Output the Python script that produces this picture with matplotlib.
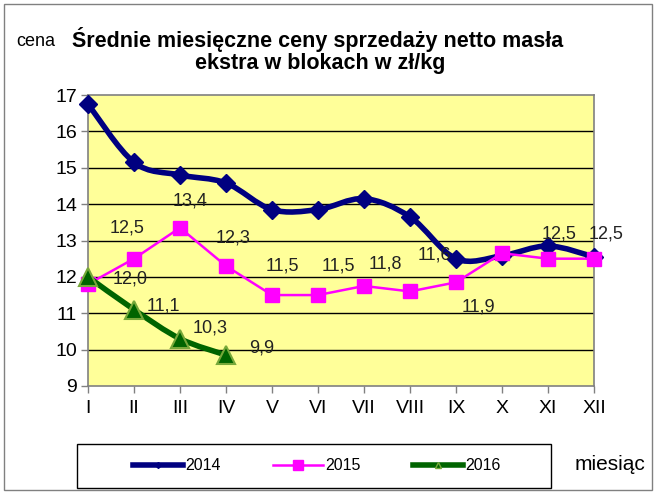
import matplotlib
matplotlib.use("Agg")
import matplotlib.pyplot as plt
from matplotlib.path import Path
from matplotlib.patches import PathPatch, Rectangle
from matplotlib.lines import Line2D
import numpy as np

plt.rcParams['font.family'] = ['Liberation Sans', 'DejaVu Sans']

months = ["I", "II", "III", "IV", "V", "VI", "VII", "VIII", "IX", "X", "XI", "XII"]
y2014 = [16.75, 15.15, 14.8, 14.58, 13.85, 13.85, 14.15, 13.65, 12.5, 12.58, 12.85, 12.55]
y2015 = [11.8, 12.5, 13.35, 12.3, 11.5, 11.5, 11.75, 11.6, 11.85, 12.65, 12.5, 12.5]
y2016 = [12.0, 11.1, 10.3, 9.85]
labels2015 = [None, "12,5", "13,4", "12,3", "11,5", "11,5", "11,8", "11,6", "11,9", None, "12,5", "12,5"]
labels2016 = ["12,0", "11,1", "10,3", "9,9"]
# label offsets in pixels (dx, dy), screen up positive
off2015 = [None, (-7, 31), (10, 27), (7, 28), (10, 29), (20, 29), (21, 22), (24, 36), (22, -25), None, (11, 25), (12, 25)]
off2016 = [(42, -2), (29, 4), (30, 11), (36, 7)]

W, H = 657, 493
fig = plt.figure(figsize=(W / 100, H / 100), dpi=100)
fig.patches.append(Rectangle((4 / W, 3 / H), 648 / W, 486 / H, transform=fig.transFigure,
                             fill=False, edgecolor="#808080", lw=1))

ax = fig.add_axes([88 / W, 1 - 386 / H, (594 - 88) / W, (386 - 95) / H])
ax.set_facecolor("#FFFF99")
ax.set_xlim(0, 11)
ax.set_ylim(9, 17)
ax.set_yticks(range(9, 18))
ax.set_xticks(range(12))
ax.set_xticklabels(months)
ax.tick_params(axis="both", labelsize=14, colors="black", direction="out", length=5, width=1, color="#808080")
ax.tick_params(axis="x", pad=5)
ax.tick_params(axis="y", pad=3)
for yv in range(10, 17):
    ax.axhline(yv, color="black", lw=1, zorder=1)
for s in ax.spines.values():
    s.set_color("#808080")
    s.set_linewidth(1.2)


def smooth_path(xs, ys):
    pts = np.column_stack([xs, ys]).astype(float)
    n = len(pts)
    verts = [pts[0]]
    codes = [Path.MOVETO]
    for i in range(n - 1):
        p0 = pts[i - 1] if i > 0 else pts[i]
        p1 = pts[i]
        p2 = pts[i + 1]
        p3 = pts[i + 2] if i + 2 < n else pts[i + 1]
        c1 = p1 + (p2 - p0) / 6
        c2 = p2 - (p3 - p1) / 6
        verts += [c1, c2, p2]
        codes += [Path.CURVE4] * 3
    return Path(verts, codes)


x14 = np.arange(len(y2014))
x15 = np.arange(len(y2015))
x16 = np.arange(len(y2016))

ax.add_patch(PathPatch(smooth_path(x14, y2014), fill=False, edgecolor="#000080", lw=4, zorder=3,
                       capstyle="round", joinstyle="round"))
ax.plot(x14, y2014, ls="none", marker="D", ms=9, color="#000080", zorder=4, clip_on=False)

ax.plot(x15, y2015, color="#FF00FF", lw=1.8, marker="s", ms=10, mfc="#FF00FF", mec="#FF00FF", zorder=5, clip_on=False)

ax.add_patch(PathPatch(smooth_path(x16, y2016), fill=False, edgecolor="#006400", lw=4, zorder=6,
                       capstyle="round", joinstyle="round"))
ax.plot(x16, y2016, ls="none", marker="^", ms=13, mfc="#006400", mec="#77A83A", mew=1.5, zorder=7, clip_on=False)

for x, y, lab, off in zip(x15, y2015, labels2015, off2015):
    if lab is None:
        continue
    ax.annotate(lab, (x, y), xytext=(off[0] * 0.72, off[1] * 0.72), textcoords="offset points",
                ha="center", va="center", fontsize=13, color="#222222", zorder=8, annotation_clip=False)
for x, y, lab, off in zip(x16, y2016, labels2016, off2016):
    ax.annotate(lab, (x, y), xytext=(off[0] * 0.72, off[1] * 0.72), textcoords="offset points",
                ha="center", va="center", fontsize=13, color="#222222", zorder=8, annotation_clip=False)

fig.text(36 / W, 1 - 41 / H, "cena", fontsize=13, ha="center", va="center")
fig.text(318 / W, 1 - 40 / H, "Średnie miesięczne ceny sprzedaży netto masła", fontsize=15.5,
         fontweight="bold", ha="center", va="center")
fig.text(320 / W, 1 - 64 / H, "ekstra w blokach w zł/kg", fontsize=15.5,
         fontweight="bold", ha="center", va="center")

handles = [
    Line2D([], [], color="#000080", lw=4, marker="D", ms=3),
    Line2D([], [], color="#FF00FF", lw=1.8, marker="s", ms=7),
    Line2D([], [], color="#006400", lw=4, marker="^", ms=5, mfc="#006400", mec="#77A83A"),
]
leg = fig.legend(handles, ["2014", "2015", "2016"], loc="center",
                 bbox_to_anchor=(317 / W, 1 - 466 / H), ncol=3, fontsize=11.5,
                 frameon=False, handlelength=3.1,
                 columnspacing=3.3, handletextpad=0.15)
fig.patches.append(Rectangle((77 / W, 1 - 488 / H), (551 - 77) / W, 44 / H, transform=fig.transFigure,
                             fill=False, edgecolor="black", lw=1))

fig.text(610 / W, 1 - 465 / H, "miesiąc", fontsize=15, ha="center", va="center")

fig.savefig("out.png", dpi=100)
